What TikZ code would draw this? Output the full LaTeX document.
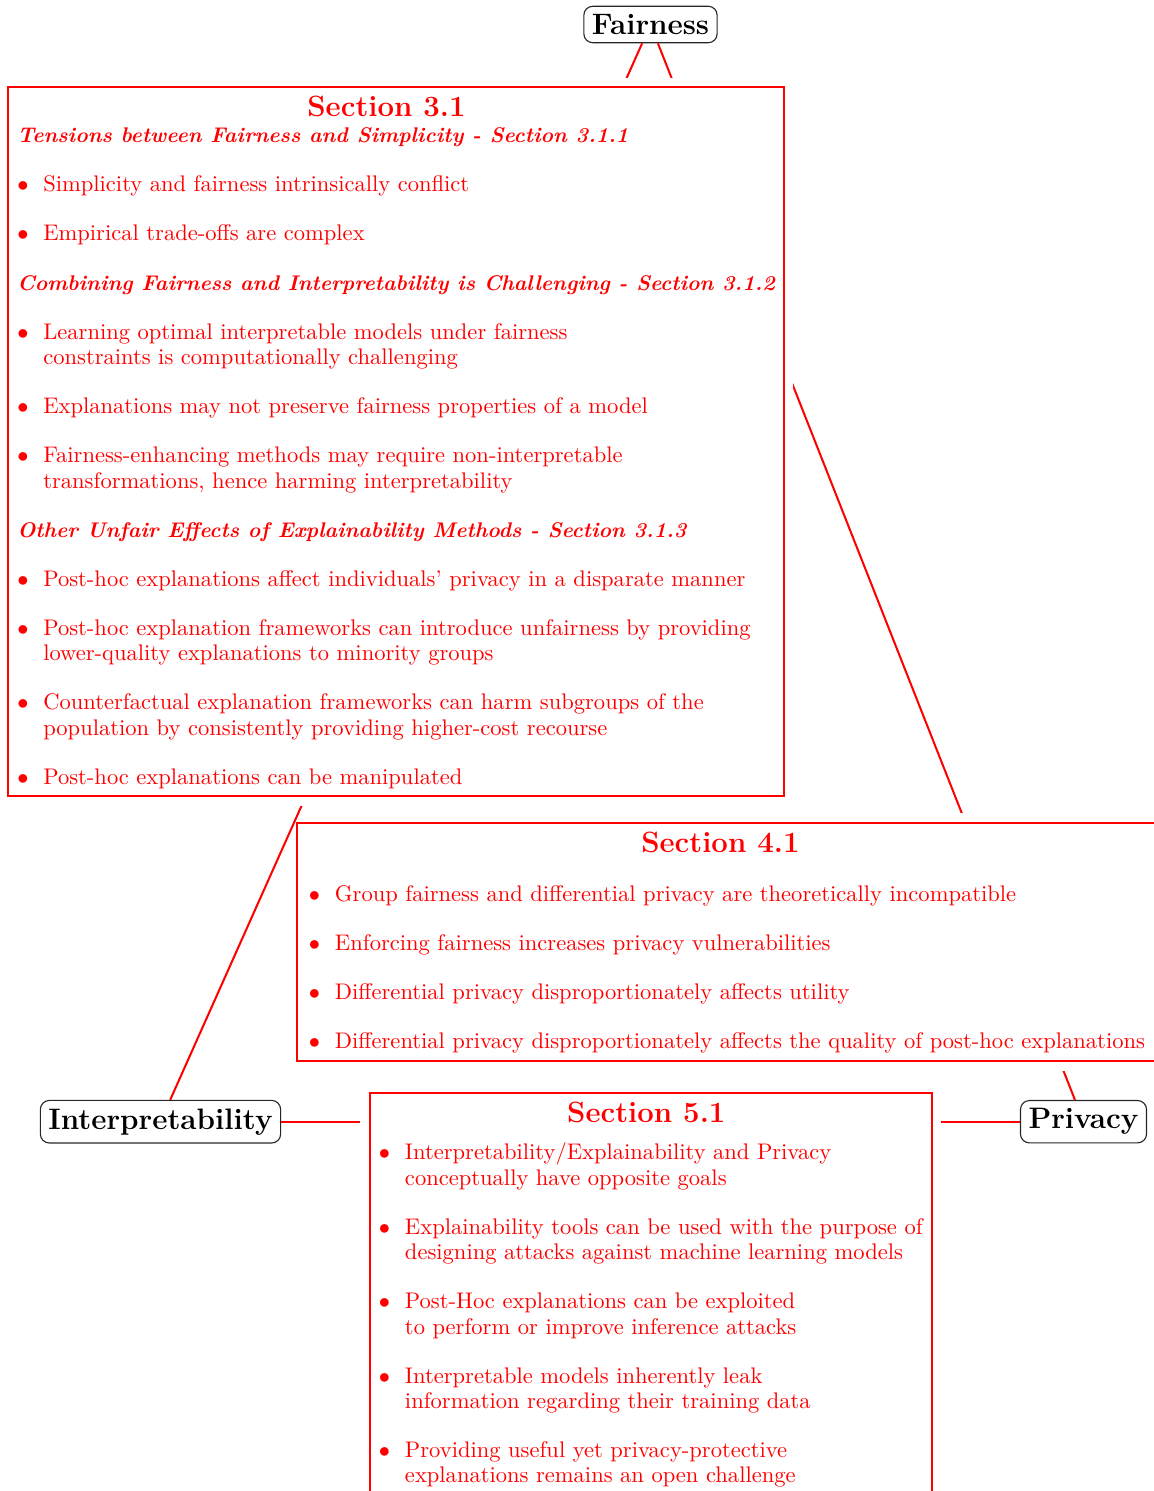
\documentclass[tikz,border=0pt]{standalone}
\usetikzlibrary{positioning}

\newcommand{\itm}[1]{\makebox[11.6pt][l]{$\bullet$}#1}
\newcommand{\cnt}{\hspace*{11.6pt}}
\newcommand{\ttl}[2]{{\fontsize{13.1}{14}\selectfont\bfseries #1}\hspace*{#2}}
\newcommand{\subhd}[1]{{\fontsize{9.46}{11.3}\selectfont\bfseries\itshape #1}}

\begin{document}
\begin{tikzpicture}[
    x=0.446pt, y=-0.446pt,
    concept/.style={draw=black!85, line width=0.5pt, rounded corners=4pt, inner sep=3.6pt, font=\fontsize{13.2}{14}\selectfont\bfseries},
    secbox/.style={draw=red, line width=0.9pt, fill=white, text=red, align=center, inner sep=4pt, anchor=north west, font=\fontsize{10.06}{11.3}\selectfont, preaction={draw=white, line width=8.5pt}},
    link/.style={draw=red, line width=0.9pt}
  ]
    \useasboundingbox (0,0) rectangle (1153,1491);
    % the three topics
    \node[concept] (fair) at (650.5,24.5) {Fairness};
    \node[concept] (interp) at (160.5,1121.7) {Interpretability};
    \node[concept] (priv) at (1083.5,1121.7) {Privacy};
    \draw[link] (fair) -- (priv);
    \draw[link] (interp) -- (priv);
    % fairness vs privacy
    \node[secbox, inner xsep=5.2pt] (sec41) at (296.3,821.7)
    {\ttl{Section 4.1}{5.8pt}\\[12.9pt]
     \begin{tabular}{@{}l@{}}
     \itm{Group fairness and differential privacy are theoretically incompatible}\\[10.6pt]
     \itm{Enforcing fairness increases privacy vulnerabilities}\\[10.6pt]
     \itm{Differential privacy disproportionately affects utility}\\[10.6pt]
     \itm{Differential privacy disproportionately affects the quality of post-hoc explanations}\\[-1.8pt]
     \end{tabular}};
    % interpretability vs privacy
    \node[secbox] (sec51) at (369,1092)
    {\ttl{Section 5.1}{4pt}\\[7.6pt]
     \begin{tabular}{@{}l@{}}
     \itm{Interpretability/Explainability and Privacy}\\
     \cnt conceptually have opposite goals\\[10.6pt]
     \itm{Explainability tools can be used with the purpose of}\\
     \cnt designing attacks against machine learning models\\[10.6pt]
     \itm{Post-Hoc explanations can be exploited}\\
     \cnt to perform or improve inference attacks\\[10.6pt]
     \itm{Interpretable models inherently leak}\\
     \cnt information regarding their training data\\[10.6pt]
     \itm{Providing useful yet privacy-protective}\\
     \cnt explanations remains an open challenge
     \end{tabular}};
    \draw[link] (fair) -- (interp);
    % fairness vs interpretability
    \node[secbox] (sec31) at (7.3,86.3)
    {\ttl{Section 3.1}{8.5pt}\\[2.5pt]
     \begin{tabular}{@{}l@{}}
     \subhd{Tensions between Fairness and Simplicity - Section 3.1.1}\\[10.6pt]
     \itm{Simplicity and fairness intrinsically conflict}\\[10.6pt]
     \itm{Empirical trade-offs are complex}\\[10.6pt]
     \subhd{Combining Fairness and Interpretability is Challenging - Section 3.1.2}\\[10.6pt]
     \itm{Learning optimal interpretable models under fairness}\\
     \cnt constraints is computationally challenging\\[10.6pt]
     \itm{Explanations may not preserve fairness properties of a model}\\[10.6pt]
     \itm{Fairness-enhancing methods may require non-interpretable}\\
     \cnt transformations, hence harming interpretability\\[10.6pt]
     \subhd{Other Unfair Effects of Explainability Methods - Section 3.1.3}\\[10.6pt]
     \itm{Post-hoc explanations affect individuals' privacy in a disparate manner}\\[10.6pt]
     \itm{Post-hoc explanation frameworks can introduce unfairness by providing}\\
     \cnt lower-quality explanations to minority groups\\[10.6pt]
     \itm{Counterfactual explanation frameworks can harm subgroups of the}\\
     \cnt population by consistently providing higher-cost recourse\\[10.6pt]
     \itm{Post-hoc explanations can be manipulated}\\[-2pt]
     \end{tabular}};
  \end{tikzpicture}
\end{document}
